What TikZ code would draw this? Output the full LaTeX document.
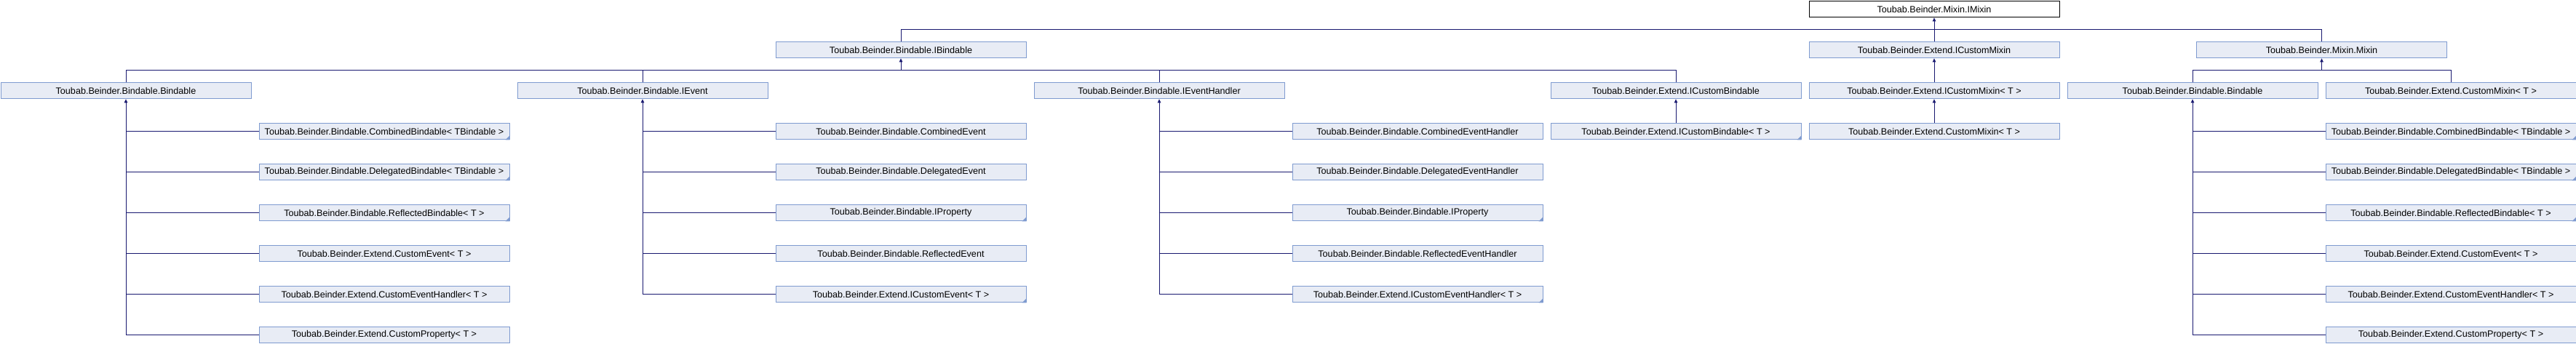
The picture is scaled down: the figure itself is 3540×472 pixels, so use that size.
\documentclass[tikz,border=0pt]{standalone}
\usepackage{fontspec}
\setmainfont{Liberation Sans}
\usetikzlibrary{arrows.meta}
\definecolor{edgecol}{HTML}{191970}
\definecolor{boxfill}{HTML}{E8ECF5}
\definecolor{boxborder}{HTML}{7F9BD0}
\tikzset{
  cls/.style={draw=boxborder, fill=boxfill, line width=1pt, minimum width=344pt, minimum height=22.5pt, inner sep=0pt, anchor=north west, font=\fontsize{12.6}{14}\selectfont},
  rootcls/.style={cls, draw=black, fill=white},
  conn/.style={draw=edgecol, line width=1pt},
  arr/.style={conn, -{Triangle[length=5pt,width=4.5pt]}},
}
\newcommand{\trunc}[1]{\fill[boxborder] ([xshift=-6pt]#1.south east) -- (#1.south east) -- ([yshift=6pt]#1.south east) -- cycle;}
\begin{document}
\begin{tikzpicture}[x=1pt,y=-1pt]
\fill[white] (0,0) rectangle (3540,472);
\useasboundingbox (0,0) rectangle (3540,472);
% row 0
\node[rootcls] (IMixin) at (2485.5,0.8) {Toubab.Beinder.Mixin.IMixin};
% row 1
\node[cls] (IBindable) at (1065.5,56.8) {Toubab.Beinder.Bindable.IBindable};
\node[cls] (ICustomMixin) at (2485.5,56.8) {Toubab.Beinder.Extend.ICustomMixin};
\node[cls] (Mixin) at (3018,56.8) {Toubab.Beinder.Mixin.Mixin};
% row 2
\node[cls] (Bindable) at (0.5,112.8) {Toubab.Beinder.Bindable.Bindable};
\node[cls] (IEvent) at (710.5,112.8) {Toubab.Beinder.Bindable.IEvent};
\node[cls] (IEventHandler) at (1420.5,112.8) {Toubab.Beinder.Bindable.IEventHandler};
\node[cls] (ICustomBindable) at (2130.5,112.8) {Toubab.Beinder.Extend.ICustomBindable};
\node[cls] (ICustomMixinT) at (2485.5,112.8) {Toubab.Beinder.Extend.ICustomMixin< T >};
\node[cls] (BindableB) at (2840.5,112.8) {Toubab.Beinder.Bindable.Bindable};
\node[cls] (CustomMixinB) at (3195.5,112.8) {Toubab.Beinder.Extend.CustomMixin< T >};
% row 3
\node[cls] (ICustomBindableT) at (2130.5,168.8) {Toubab.Beinder.Extend.ICustomBindable< T >};
\node[cls] (CustomMixinT) at (2485.5,168.8) {Toubab.Beinder.Extend.CustomMixin< T >};
% column 1 children
\node[cls] (a3) at (355.5,168.8) {Toubab.Beinder.Bindable.CombinedBindable< TBindable >};
\node[cls] (a4) at (355.5,224.8) {Toubab.Beinder.Bindable.DelegatedBindable< TBindable >};
\node[cls] (a5) at (355.5,280.8) {Toubab.Beinder.Bindable.ReflectedBindable< T >};
\node[cls] (a6) at (355.5,336.8) {Toubab.Beinder.Extend.CustomEvent< T >};
\node[cls] (a7) at (355.5,392.8) {Toubab.Beinder.Extend.CustomEventHandler< T >};
\node[cls] (a8) at (355.5,448.8) {Toubab.Beinder.Extend.CustomProperty< T >};
% column 3 children
\node[cls] (b3) at (1065.5,168.8) {Toubab.Beinder.Bindable.CombinedEvent};
\node[cls] (b4) at (1065.5,224.8) {Toubab.Beinder.Bindable.DelegatedEvent};
\node[cls] (b5) at (1065.5,280.8) {Toubab.Beinder.Bindable.IProperty};
\node[cls] (b6) at (1065.5,336.8) {Toubab.Beinder.Bindable.ReflectedEvent};
\node[cls] (b7) at (1065.5,392.8) {Toubab.Beinder.Extend.ICustomEvent< T >};
% column 5 children
\node[cls] (c3) at (1775.5,168.8) {Toubab.Beinder.Bindable.CombinedEventHandler};
\node[cls] (c4) at (1775.5,224.8) {Toubab.Beinder.Bindable.DelegatedEventHandler};
\node[cls] (c5) at (1775.5,280.8) {Toubab.Beinder.Bindable.IProperty};
\node[cls] (c6) at (1775.5,336.8) {Toubab.Beinder.Bindable.ReflectedEventHandler};
\node[cls] (c7) at (1775.5,392.8) {Toubab.Beinder.Extend.ICustomEventHandler< T >};
% column 9 children
\node[cls] (d3) at (3195.5,168.8) {Toubab.Beinder.Bindable.CombinedBindable< TBindable >};
\node[cls] (d4) at (3195.5,224.8) {Toubab.Beinder.Bindable.DelegatedBindable< TBindable >};
\node[cls] (d5) at (3195.5,280.8) {Toubab.Beinder.Bindable.ReflectedBindable< T >};
\node[cls] (d6) at (3195.5,336.8) {Toubab.Beinder.Extend.CustomEvent< T >};
\node[cls] (d7) at (3195.5,392.8) {Toubab.Beinder.Extend.CustomEventHandler< T >};
\node[cls] (d8) at (3195.5,448.8) {Toubab.Beinder.Extend.CustomProperty< T >};
% truncation marks
\trunc{a3}\trunc{a4}\trunc{a5}
\trunc{b5}\trunc{b7}
\trunc{c5}\trunc{c7}
\trunc{ICustomBindableT}
\trunc{d3}\trunc{d4}\trunc{d5}
% buses
\coordinate (bus0) at (0,40.5);
\coordinate (bus1) at (0,96.5);
\draw[conn] (IBindable.north) -- (IBindable.north |- bus0) -| (Mixin.north);
\draw[arr] (ICustomMixin.north) -- (IMixin.south);
\draw[conn] (Bindable.north) -- (Bindable.north |- bus1) -| (ICustomBindable.north);
\draw[conn] (IEvent.north) -- (IEvent.north |- bus1);
\draw[conn] (IEventHandler.north) -- (IEventHandler.north |- bus1);
\draw[arr] (IBindable.south |- bus1) -- (IBindable.south);
\draw[arr] (ICustomMixinT.north) -- (ICustomMixin.south);
\draw[arr] (CustomMixinT.north) -- (ICustomMixinT.south);
\draw[arr] (ICustomBindableT.north) -- (ICustomBindable.south);
\draw[conn] (BindableB.north) -- (BindableB.north |- bus1) -| (CustomMixinB.north);
\draw[arr] (Mixin.south |- bus1) -- (Mixin.south);
% trees
\draw[arr] (Bindable.south |- a8.west) -- (Bindable.south);
\foreach \n in {a3,a4,a5,a6,a7,a8} \draw[conn] (Bindable.south |- \n.west) -- (\n.west);
\draw[arr] (IEvent.south |- b7.west) -- (IEvent.south);
\foreach \n in {b3,b4,b5,b6,b7} \draw[conn] (IEvent.south |- \n.west) -- (\n.west);
\draw[arr] (IEventHandler.south |- c7.west) -- (IEventHandler.south);
\foreach \n in {c3,c4,c5,c6,c7} \draw[conn] (IEventHandler.south |- \n.west) -- (\n.west);
\draw[arr] (BindableB.south |- d8.west) -- (BindableB.south);
\foreach \n in {d3,d4,d5,d6,d7,d8} \draw[conn] (BindableB.south |- \n.west) -- (\n.west);
\end{tikzpicture}
\end{document}
